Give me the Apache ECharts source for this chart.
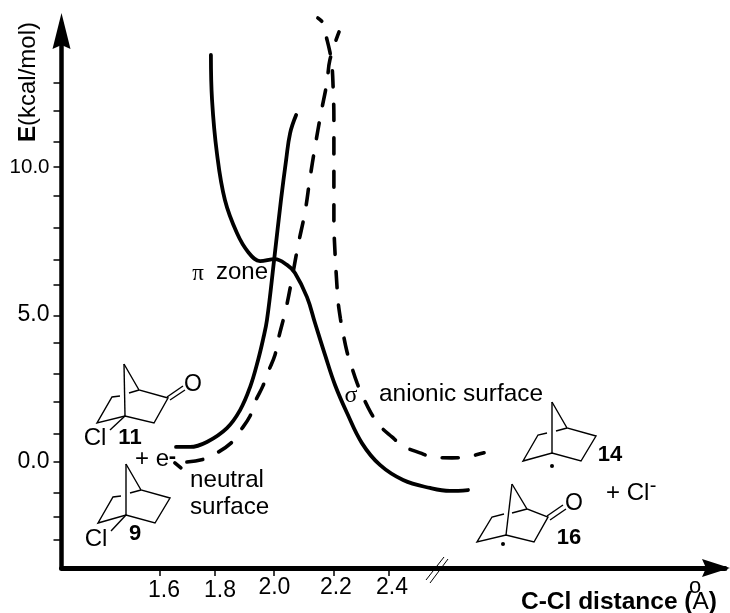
<!DOCTYPE html>
<html>
<head>
<meta charset="utf-8">
<title>C-Cl distance energy surfaces</title>
<script src="https://cdn.jsdelivr.net/npm/echarts@6/dist/echarts.min.js"></script>
<style>
html, body { margin: 0; padding: 0; background: #fff; }
#main { width: 730px; height: 613px; }
</style>
</head>
<body>
<div id="main"></div>
<script>
// values
var neutralX = [1.656, 1.705, 1.764, 1.834, 1.880, 1.915, 1.943, 1.960, 1.974, 1.999, 2.023, 2.041, 2.055, 2.076];
var neutralY = [0.51, 0.51, 0.68, 1.15, 1.76, 2.54, 3.46, 4.14, 4.81, 6.85, 8.88, 10.24, 11.15, 11.76];

var piX = [1.778, 1.782, 1.799, 1.827, 1.869, 1.908, 1.950, 2.002, 2.044, 2.072, 2.114, 2.142, 2.177, 2.212, 2.254, 2.306, 2.369, 2.450, 2.544, 2.614, 2.677];
var piY = [13.80, 12.27, 10.47, 8.88, 7.76, 7.12, 6.81, 6.88, 6.68, 6.41, 5.59, 4.71, 3.63, 2.61, 1.66, 0.64, -0.10, -0.61, -0.88, -0.98, -0.95];

var anionTailX = [1.652, 1.673];
var anionTailY = [-0.03, -0.20];

var anionUpX = [1.694, 1.754, 1.799, 1.848, 1.880, 1.915, 1.932, 1.960, 1.978, 2.002, 2.013, 2.041, 2.065, 2.083, 2.107, 2.124, 2.142, 2.163, 2.184, 2.194, 2.226];
var anionUpY = [0.00, 0.10, 0.31, 0.64, 1.05, 1.56, 2.03, 2.58, 3.05, 3.63, 4.14, 5.22, 6.41, 7.36, 8.47, 9.59, 10.68, 11.83, 12.88, 13.63, 14.58];

var anionDownX = [2.152, 2.170, 2.180, 2.194, 2.201, 2.205, 2.208, 2.208, 2.208, 2.208, 2.212, 2.219, 2.222, 2.231, 2.240, 2.254, 2.268, 2.289, 2.310, 2.338, 2.366, 2.411, 2.450, 2.509, 2.555, 2.621, 2.670, 2.733];
var anionDownY = [15.05, 14.88, 14.47, 13.90, 13.46, 12.78, 11.66, 10.51, 9.32, 8.20, 7.08, 5.93, 5.49, 4.85, 4.37, 3.73, 3.29, 2.68, 2.20, 1.66, 1.25, 0.85, 0.54, 0.31, 0.17, 0.14, 0.17, 0.31];

var xTicks = [1.6, 1.792, 1.999, 2.208, 2.4];
var xLabelAt = [1.614, 1.810, 2.000, 2.215, 2.411];
var xLabels = ['1.6', '1.8', '2.0', '2.2', '2.4'];
var yTicks = [-2.64, -1.86, -1.05, 0, 0.95, 2.04, 2.98, 4.03, 4.96, 6.0, 6.86, 7.94, 9.02, 10, 10.86, 11.91, 12.86];
var yLabelAt = [0, 5, 10];

var FONT = '"Liberation Sans", Arial, sans-serif';
var SERIF = '"Liberation Serif", serif';

function zip(xs, ys) {
	return xs.map(function (x, i) { return [x, ys[i]]; });
}

function curve(name, xs, ys, dashed, dashOffset) {
	return {
		name: name,
		type: 'line',
		data: zip(xs, ys),
		smooth: 0.4,
		symbol: 'none',
		clip: false,
		silent: true,
		lineStyle: dashed
			? { color: '#000', width: 3.6, type: [16, 17.5], dashOffset: dashOffset || 0, cap: 'round' }
			: { color: '#000', width: 3.8, cap: 'round' }
	};
}

// structure drawings are page annotations, in pixels
function bonds(list, width) {
	return list.map(function (pts) {
		return {
			type: 'polyline',
			silent: true,
			shape: { points: pts },
			style: { stroke: '#000', lineWidth: width || 1.4, fill: null }
		};
	});
}

function label(text, x, y, size, opts) {
	opts = opts || {};
	return {
		type: 'text',
		silent: true,
		x: x,
		y: y,
		style: {
			text: text,
			fill: '#000',
			font: (opts.bold ? 'bold ' : '') + size + 'px ' + (opts.family || FONT),
			textAlign: opts.align || 'center',
			textVerticalAlign: 'middle'
		}
	};
}

function dot(x, y) {
	return { type: 'circle', silent: true, shape: { cx: x, cy: y, r: 2 }, style: { fill: '#000' } };
}

var structures = [].concat(
	// 11
	bonds([
		[[124, 364], [139, 390], [168, 398], [154, 423], [125, 416], [97, 423], [112, 397], [120, 396]],
		[[129, 393], [139, 390]],
		[[124, 364], [125, 416]],
		[[125, 416], [110, 430]],
		[[167, 397], [183, 386]],
		[[170, 400], [185, 390]]
	]),
	// 9
	bonds([
		[[126, 464], [141, 490], [170, 498], [155, 523], [126, 515], [98, 523], [113, 497], [121, 496]],
		[[130, 493], [141, 490]],
		[[126, 464], [126, 515]],
		[[126, 515], [111, 531]]
	]),
	// 14
	bonds([
		[[552, 402], [567, 428], [596, 436], [581, 461], [552, 453], [523, 461], [538, 435], [547, 433]],
		[[556, 431], [567, 428]],
		[[552, 402], [552, 453]]
	]),
	// 16
	bonds([
		[[512, 484], [527, 509], [548, 517], [534, 542], [506, 535], [477, 542], [492, 517], [504, 514]],
		[[512, 513], [527, 509]],
		[[512, 484], [506, 535]],
		[[547, 516], [563, 505]],
		[[550, 520], [566, 509]]
	]),
	// axis break
	bonds([
		[[426, 580], [444, 557]],
		[[430, 583], [448, 559]]
	], 1),
	[
		dot(552, 466),
		dot(503, 544)
	]
);

var texts = [
	label('O', 193, 385, 23),
	label('Cl', 95, 438, 24),
	label('11', 130, 438, 22, { bold: true }),
	label('+ e', 152, 459, 24),
	label('-', 172.5, 457, 22, { bold: true }),
	label('Cl', 96, 539, 24),
	label('9', 135, 534, 22, { bold: true }),
	label('neutral', 190, 480, 24.2, { align: 'left' }),
	label('surface', 190, 507, 24.2, { align: 'left' }),
	label('\u03c0', 198, 274, 23, { family: SERIF }),
	label('zone', 216, 272, 24, { align: 'left' }),
	label('\u03c3', 351, 396, 24, { family: SERIF }),
	label('anionic surface', 379, 394, 24.4, { align: 'left' }),
	label('14', 610, 455, 22, { bold: true }),
	label('O', 574, 504, 23),
	label('16', 569, 538, 22, { bold: true }),
	label('+ Cl', 606, 493, 24, { align: 'left' }),
	label('-', 653, 486, 20),
	label('o', 695, 587, 22)
];

var chart = echarts.init(document.getElementById('main'));
chart.setOption({
	animation: false,
	backgroundColor: '#fff',
	grid: { left: 61.5, right: 5, top: 24, bottom: 45, outerBoundsMode: 'none' },
	xAxis: {
		type: 'value',
		min: 1.2556,
		max: 3.5755,
		splitLine: { show: false },
		axisLine: {
			onZero: false,
			lineStyle: { color: '#000', width: 5 },
			symbol: ['none', 'path://M0 -14L9 14L0 10L-9 14Z'],
			symbolSize: [18, 28],
			symbolOffset: [0, -9]
		},
		axisTick: { show: true, length: 8, customValues: xTicks, lineStyle: { color: '#000', width: 1.5 } },
		axisLabel: {
			show: true,
			customValues: xLabelAt,
			margin: 8,
			color: '#000',
			fontFamily: FONT,
			fontSize: 23,
			formatter: function (v) {
				var k = xLabelAt.indexOf(v);
				return k < 2 ? '{low|' + xLabels[k] + '}' : xLabels[k];
			},
			rich: {
				low: { fontSize: 23, fontFamily: FONT, color: '#000', padding: [3, 0, 0, 0] }
			}
		},
		name: '{b|C-Cl distance (}{r|A}{b|)}',
		nameLocation: 'end',
		nameGap: -8,
		nameMoveOverlap: false,
		nameTextStyle: {
			align: 'right',
			verticalAlign: 'top',
			padding: [22, 0, 0, 0],
			rich: {
				b: { fontFamily: FONT, fontWeight: 'bold', fontSize: 24.5, color: '#000' },
				r: { fontFamily: FONT, fontSize: 24.5, color: '#000' }
			}
		}
	},
	yAxis: {
		type: 'value',
		min: -3.593,
		max: 14.847,
		splitLine: { show: false },
		axisLine: {
			onZero: false,
			lineStyle: { color: '#000', width: 4.5 },
			symbol: ['none', 'path://M0 -18L9 18L0 14L-9 18Z'],
			symbolSize: [18, 36],
			symbolOffset: [0, -7]
		},
		axisTick: { show: true, length: 8, customValues: yTicks, lineStyle: { color: '#000', width: 1.5 } },
		axisLabel: {
			show: true,
			customValues: yLabelAt,
			margin: 12,
			color: '#000',
			fontFamily: FONT,
			fontSize: 23,
			formatter: function (v) {
				return v === 10 ? '{s|10.0}' : v.toFixed(1);
			},
			rich: { s: { fontSize: 20.5, fontFamily: FONT, color: '#000' } }
		},
		name: '{b|E}{r|(kcal/mol)}',
		nameLocation: 'end',
		nameRotate: 90,
		nameGap: 2,
		nameMoveOverlap: false,
		nameTextStyle: {
			align: 'right',
			verticalAlign: 'bottom',
			padding: [0, 0, 21, 0],
			rich: {
				b: { fontFamily: FONT, fontWeight: 'bold', fontSize: 24.5, color: '#000' },
				r: { fontFamily: FONT, fontSize: 24, color: '#000' }
			}
		}
	},
	series: [
		curve('neutral', neutralX, neutralY, false),
		curve('pi', piX, piY, false),
		{
			name: 'anionic tail',
			type: 'line',
			data: zip(anionTailX, anionTailY),
			symbol: 'none',
			silent: true,
			lineStyle: { color: '#000', width: 3.6, cap: 'round' }
		},
		curve('anionic up', anionUpX, anionUpY, true),
		curve('anionic down', anionDownX, anionDownY, true, 11)
	],
	graphic: structures.concat(texts)
});
</script>
</body>
</html>
